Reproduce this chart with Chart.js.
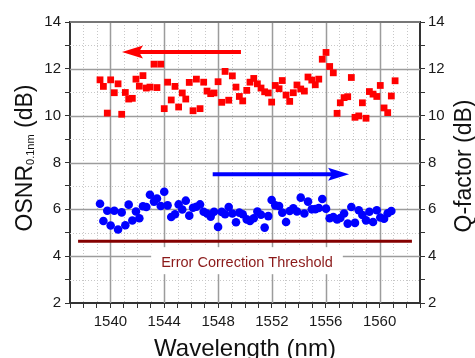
<!DOCTYPE html>
<html>
<head>
<meta charset="utf-8">
<script src="https://cdn.jsdelivr.net/npm/chart.js@4.4.0/dist/chart.umd.min.js"></script>
<style>
html, body { margin: 0; padding: 0; background: #fff; }
#chart { display: block; }
</style>
</head>
<body>
<canvas id="chart" width="475" height="358"></canvas>
<script>
// channel wavelengths (nm)
const wavelength = [
  1539.23, 1539.48, 1539.77, 1540.02, 1540.29, 1540.57, 1540.84, 1541.11, 1541.36, 1541.63,
  1541.90, 1542.15, 1542.42, 1542.67, 1542.94, 1543.24, 1543.46, 1543.74, 1544.00, 1544.25,
  1544.52, 1544.80, 1545.07, 1545.34, 1545.60, 1545.86, 1546.14, 1546.39, 1546.66, 1546.93,
  1547.18, 1547.45, 1547.70, 1548.00, 1548.27, 1548.52, 1548.79, 1549.06, 1549.33, 1549.58,
  1549.83, 1550.13, 1550.37, 1550.65, 1550.92, 1551.19, 1551.46, 1551.73, 1551.98, 1552.25,
  1552.53, 1552.77, 1553.05, 1553.32, 1553.59, 1553.86, 1554.14, 1554.41, 1554.68, 1554.96,
  1555.22, 1555.48, 1555.74, 1556.02, 1556.29, 1556.56, 1556.84, 1557.08, 1557.36, 1557.63,
  1557.90, 1558.17, 1558.45, 1558.72, 1558.99, 1559.24, 1559.51, 1559.79, 1560.05, 1560.33,
  1560.60, 1560.87, 1561.15
];

// OSNR in 0.1 nm (dB), left axis
const osnr = [
  11.53, 11.25, 10.11, 11.53, 10.98, 11.36, 10.06, 10.99, 10.71, 10.74,
  11.56, 11.26, 11.71, 11.18, 11.22, 12.20, 11.20, 12.20, 10.30, 11.43,
  10.67, 11.25, 10.37, 10.97, 10.71, 11.42, 10.21, 11.56, 10.30, 11.43,
  11.05, 10.94, 10.97, 11.45, 10.57, 11.89, 10.66, 11.70, 11.22, 10.82,
  10.63, 11.08, 11.43, 11.59, 11.36, 11.18, 11.02, 10.97, 10.58, 11.29,
  11.15, 11.50, 10.88, 10.61, 10.98, 11.31, 11.14, 11.05, 11.65, 11.52,
  11.32, 11.56, 12.41, 12.70, 12.10, 11.83, 10.10, 10.55, 10.77, 10.81,
  11.63, 9.93, 9.99, 10.55, 9.89, 11.03, 10.92, 10.82, 11.29, 10.33,
  10.13, 10.84, 11.49
];

// Q-factor (dB), right axis
const qFactor = [
  6.24, 5.50, 5.94, 5.31, 5.94, 5.14, 5.87, 5.32, 6.20, 5.52,
  5.91, 5.62, 6.13, 6.10, 6.62, 6.33, 6.46, 6.14, 6.75, 6.17,
  5.67, 5.79, 6.21, 5.99, 6.37, 5.73, 6.07, 6.11, 6.21, 5.90,
  5.82, 5.69, 5.90, 5.25, 5.89, 5.79, 6.10, 5.82, 5.45, 5.86,
  5.79, 5.57, 5.50, 5.62, 5.91, 5.77, 5.22, 5.71, 6.40, 6.17,
  6.14, 5.86, 5.46, 5.93, 6.04, 5.91, 6.50, 5.82, 6.33, 6.00,
  6.01, 6.06, 6.44, 6.03, 5.62, 5.67, 5.57, 5.63, 5.82, 5.39,
  6.10, 5.42, 5.96, 5.76, 5.53, 5.90, 5.46, 5.96, 5.65, 5.60,
  5.83, 5.93
];

const xTicks = [1540, 1544, 1548, 1552, 1556, 1560];
const yTicks = [2, 4, 6, 8, 10, 12, 14];
const xMin = 1537, xMax = 1563;
const yMin = 2, yMax = 14;

const threshold = 4.64;
const thresholdRange = [1537.6, 1562.4];
const thresholdText = "Error Correction Threshold";

const osnrArrow = { from: 1549.7, to: 1540.86, y: 12.72 };
const qArrow = { from: 1547.6, to: 1557.73, y: 7.5 };

const FONT = "'Liberation Sans', Arial, sans-serif";

const gridPlugin = {
  id: "gridPlugin",
  beforeDatasetsDraw(chart) {
    const ctx = chart.ctx, a = chart.chartArea;
    const xs = chart.scales.x, ys = chart.scales.y;
    ctx.save();
    for (let v = xMin + 1; v < xMax; v++) {
      const major = xTicks.includes(v);
      const px = Math.round(xs.getPixelForValue(v)) + 0.5;
      ctx.beginPath();
      ctx.strokeStyle = major ? "#9c9c9c" : "#c8c8c8";
      ctx.lineWidth = major ? 1.5 : 1;
      ctx.setLineDash(major ? [] : [1, 2]);
      ctx.moveTo(px, a.top);
      ctx.lineTo(px, a.bottom);
      ctx.stroke();
    }
    for (let v = yMin + 1; v < yMax; v++) {
      const major = yTicks.includes(v);
      const py = Math.round(ys.getPixelForValue(v)) + 0.5;
      ctx.beginPath();
      ctx.strokeStyle = major ? "#9c9c9c" : "#c8c8c8";
      ctx.lineWidth = major ? 1.5 : 1;
      ctx.setLineDash(major ? [] : [1, 2]);
      ctx.moveTo(a.left, py);
      ctx.lineTo(a.right, py);
      ctx.stroke();
    }
    ctx.setLineDash([]);

    // white box behind the threshold label
    ctx.font = "14.5px " + FONT;
    const tw = ctx.measureText(thresholdText).width;
    const cx = (a.left + a.right) / 2 + 2;
    const by = ys.getPixelForValue(threshold) + 26;
    ctx.fillStyle = "#fff";
    ctx.fillRect(cx - tw / 2 - 10, by - 20, tw + 20, 27);
    ctx.fillStyle = "#8b1a1a";
    ctx.textAlign = "center";
    ctx.textBaseline = "alphabetic";
    ctx.fillText(thresholdText, cx, by);

    // top frame line
    ctx.strokeStyle = "#777";
    ctx.lineWidth = 2;
    ctx.beginPath();
    ctx.moveTo(a.left, a.top);
    ctx.lineTo(a.right, a.top);
    ctx.stroke();
    ctx.restore();
  }
};

function drawArrow(chart, arrow, color) {
  const ctx = chart.ctx;
  const xs = chart.scales.x, ys = chart.scales.y;
  const x0 = xs.getPixelForValue(arrow.from);
  const x1 = xs.getPixelForValue(arrow.to);
  const py = ys.getPixelForValue(arrow.y);
  const dir = Math.sign(x1 - x0);
  const base = x1 - dir * 20;
  ctx.save();
  ctx.strokeStyle = color;
  ctx.lineWidth = 4;
  ctx.beginPath();
  ctx.moveTo(x0, py);
  ctx.lineTo(base + dir * 3, py);
  ctx.stroke();
  ctx.fillStyle = color;
  ctx.beginPath();
  ctx.moveTo(x1, py);
  ctx.lineTo(base - dir * 1, py - 6.5);
  ctx.lineTo(base + dir * 3, py);
  ctx.lineTo(base - dir * 1, py + 6.5);
  ctx.closePath();
  ctx.fill();
  ctx.restore();
}

const annotPlugin = {
  id: "annotPlugin",
  afterDatasetsDraw(chart) {
    drawArrow(chart, osnrArrow, "#ff0000");
    drawArrow(chart, qArrow, "#0000ff");
  },
  afterDraw(chart) {
    const ctx = chart.ctx, a = chart.chartArea;
    ctx.save();
    ctx.fillStyle = "#111";
    ctx.textBaseline = "alphabetic";

    // x title
    ctx.font = "24px " + FONT;
    ctx.textAlign = "center";
    ctx.fillText("Wavelength (nm)", (a.left + a.right) / 2, 356);

    // left title with subscript
    const big = "23px " + FONT, small = "11px " + FONT;
    ctx.font = big;
    const w1 = ctx.measureText("OSNR").width;
    const w3 = ctx.measureText(" (dB)").width;
    ctx.font = small;
    const w2 = ctx.measureText("0.1nm").width;
    const total = w1 + w2 + w3;
    ctx.save();
    ctx.translate(32, 158);
    ctx.rotate(-Math.PI / 2);
    ctx.textAlign = "left";
    let x = -total / 2;
    ctx.font = big;
    ctx.fillText("OSNR", x, 0);
    x += w1;
    ctx.font = small;
    ctx.fillText("0.1nm", x, 2);
    x += w2;
    ctx.font = big;
    ctx.fillText(" (dB)", x, 0);
    ctx.restore();

    // right title
    ctx.save();
    ctx.translate(471, 166);
    ctx.rotate(-Math.PI / 2);
    ctx.font = big;
    ctx.textAlign = "center";
    ctx.fillText("Q-factor (dB)", 0, 0);
    ctx.restore();
    ctx.restore();
  }
};

const tickFont = { family: FONT, size: 15 };

new Chart(document.getElementById("chart"), {
  type: "scatter",
  data: {
    datasets: [
      {
        label: "OSNR",
        data: wavelength.map((w, i) => ({ x: w, y: osnr[i] })),
        yAxisID: "y",
        pointStyle: "rect",
        radius: 4.8,
        backgroundColor: "#ff0000",
        borderWidth: 0
      },
      {
        label: "Q-factor",
        data: qFactor.map((q, i) => ({ x: wavelength[i], y: q })),
        yAxisID: "y2",
        pointStyle: "circle",
        radius: 4.3,
        backgroundColor: "#0000ff",
        borderWidth: 0
      },
      {
        label: "Threshold",
        data: thresholdRange.map((w) => ({ x: w, y: threshold })),
        yAxisID: "y",
        showLine: true,
        borderColor: "#850000",
        borderWidth: 3,
        pointRadius: 0
      }
    ]
  },
  options: {
    responsive: false,
    animation: false,
    layout: { padding: { top: 22, left: 0, right: 0, bottom: 0 } },
    plugins: { legend: { display: false }, tooltip: { enabled: false } },
    scales: {
      x: {
        type: "linear",
        position: "bottom",
        min: xMin,
        max: xMax,
        afterFit: (s) => { s.height = 55; },
        ticks: {
          stepSize: 1,
          autoSkip: false,
          maxRotation: 0,
          padding: 5,
          font: tickFont,
          color: "#1a1a1a",
          callback: (v) => (xTicks.includes(v) ? String(v) : "")
        },
        grid: { drawOnChartArea: false, tickLength: 5, tickColor: "#333" },
        border: { color: "#333", width: 2 }
      },
      y: {
        type: "linear",
        position: "left",
        min: yMin,
        max: yMax,
        afterFit: (s) => { s.width = 70; },
        ticks: {
          stepSize: 1,
          autoSkip: false,
          padding: 4,
          font: tickFont,
          color: "#1a1a1a",
          callback: (v) => (yTicks.includes(v) ? String(v) : "")
        },
        grid: { drawOnChartArea: false, tickLength: 5, tickColor: "#333" },
        border: { color: "#333", width: 2 }
      },
      y2: {
        type: "linear",
        position: "right",
        min: yMin,
        max: yMax,
        afterFit: (s) => { s.width = 55; },
        ticks: {
          stepSize: 1,
          autoSkip: false,
          padding: 3,
          font: tickFont,
          color: "#1a1a1a",
          callback: (v) => (yTicks.includes(v) ? String(v) : "")
        },
        grid: { drawOnChartArea: false, tickLength: 5, tickColor: "#333" },
        border: { color: "#333", width: 2 }
      }
    }
  },
  plugins: [gridPlugin, annotPlugin]
});
</script>
</body>
</html>
